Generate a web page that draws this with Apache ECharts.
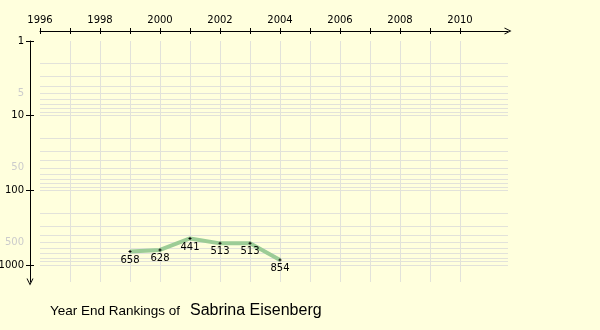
<!DOCTYPE html>
<html>
<head>
<meta charset="utf-8">
<script src="https://cdn.jsdelivr.net/npm/echarts@6/dist/echarts.min.js"></script>
<style>
  html, body { margin: 0; padding: 0; background: #ffffdd; }
  #chart { width: 600px; height: 330px; }
</style>
</head>
<body>
<div id="chart"></div>
<script>
// Year-end singles ranking per season
const years = [1999, 2000, 2001, 2002, 2003, 2004];
const rankings = [658, 628, 441, 513, 513, 854];

// Axis marks
const yearTicks = [1996, 1997, 1998, 1999, 2000, 2001, 2002, 2003, 2004, 2005, 2006, 2007, 2008, 2009, 2010];
const yearLabels = [1996, 1998, 2000, 2002, 2004, 2006, 2008, 2010];
const yearGridLines = [1997, 1998, 1999, 2000, 2001, 2002, 2003, 2004, 2005, 2006, 2007, 2008, 2009, 2010];
const rankTicks = [1, 10, 100, 1000];
const rankFaintLabels = [5, 50, 500];
const rankGridLines = [2, 3, 4, 5, 6, 7, 8, 9, 10, 20, 30, 40, 50, 60, 70, 80, 90, 100,
                       200, 300, 400, 500, 600, 700, 800, 900, 1000];

const playerName = 'Sabrina Eisenberg';

const AXIS_FONT = 'DejaVu Sans';
const GRID_COLOR = '#e2e2da';
const chevron = 'path://M0,10 L5,0 L10,10 L8.6,10 L5,2.8 L1.4,10 Z';
const plusMark = 'path://M1,0 H2 V1 H3 V2 H2 V3 H1 V2 H0 V1 H1 Z';
const fmt = v => String(Math.round(v));

const X_MIN = 1996, X_MAX = 2011.6;
const Y_MIN = 1, Y_MAX = 1689;

const chart = echarts.init(document.getElementById('chart'), null, { renderer: 'canvas' });

const baseX = {
  type: 'value', position: 'top', offset: 10, min: X_MIN, max: X_MAX,
  axisLine: { show: false }, axisTick: { show: false }, axisLabel: { show: false },
  splitLine: { show: false }
};
const baseY = {
  type: 'log', logBase: 10, inverse: true, position: 'left', offset: 10, min: Y_MIN, max: Y_MAX,
  axisLine: { show: false }, axisTick: { show: false }, axisLabel: { show: false },
  splitLine: { show: false }
};

chart.setOption({
  backgroundColor: '#ffffdd',
  animation: false,
  title: [
    {
      text: 'Year End Rankings of', left: 50, top: 304.5, padding: 0,
      textStyle: { fontFamily: 'Liberation Sans', fontSize: 13.5, fontWeight: 'normal', color: '#000' }
    },
    {
      text: playerName, left: 190, top: 302.5, padding: 0,
      textStyle: { fontFamily: 'Liberation Sans', fontSize: 16, fontWeight: 'normal', color: '#000' }
    }
  ],
  grid: { left: 40, top: 41, right: 92, bottom: 48, containLabel: false, outerBoundsMode: 'none' },
  xAxis: [
    Object.assign({}, baseX, {
      axisLine: { show: true, symbol: ['none', chevron], symbolSize: [7, 8],
                  lineStyle: { color: '#000', width: 1 } },
      axisTick: { show: true, customValues: yearTicks, length: 3, lineStyle: { color: '#000' } },
      axisLabel: { show: true, customValues: yearLabels, formatter: fmt, margin: 6,
                   fontFamily: AXIS_FONT, fontSize: 10, color: '#000' }
    }),
    Object.assign({}, baseX, {
      axisTick: { show: false, customValues: yearGridLines },
      splitLine: { show: true, lineStyle: { color: GRID_COLOR, width: 1 } }
    }),
    Object.assign({}, baseX, {
      axisTick: { show: true, inside: true, customValues: yearTicks, length: 3, lineStyle: { color: '#000' } }
    })
  ],
  yAxis: [
    Object.assign({}, baseY, {
      axisLine: { show: true, symbol: [chevron, 'none'], symbolSize: [7, 8],
                  lineStyle: { color: '#000', width: 1 } },
      axisTick: { show: true, customValues: rankTicks, length: 4, lineStyle: { color: '#000' } },
      axisLabel: { show: true, customValues: rankTicks, formatter: fmt, margin: 6,
                   fontFamily: AXIS_FONT, fontSize: 10, color: '#000' }
    }),
    Object.assign({}, baseY, {
      axisTick: { show: false, customValues: rankGridLines },
      axisLabel: { show: true, customValues: rankFaintLabels, formatter: fmt, margin: 6,
                   fontFamily: AXIS_FONT, fontSize: 10, color: '#cccccc' },
      splitLine: { show: true, lineStyle: { color: GRID_COLOR, width: 1 } }
    }),
    Object.assign({}, baseY, {
      axisTick: { show: true, inside: true, customValues: rankTicks, length: 4, lineStyle: { color: '#000' } }
    })
  ],
  series: [
    {
      type: 'line',
      xAxisIndex: 0,
      yAxisIndex: 0,
      data: years.map((y, i) => [y, rankings[i]]),
      lineStyle: { color: '#9ccc96', width: 4 },
      itemStyle: { color: '#000' },
      symbol: plusMark,
      symbolSize: 3,
      showSymbol: true,
      z: 5,
      label: {
        show: true, position: 'bottom', distance: 2,
        formatter: p => String(p.value[1]),
        fontFamily: AXIS_FONT, fontSize: 10, color: '#000'
      }
    }
  ]
});
</script>
</body>
</html>
